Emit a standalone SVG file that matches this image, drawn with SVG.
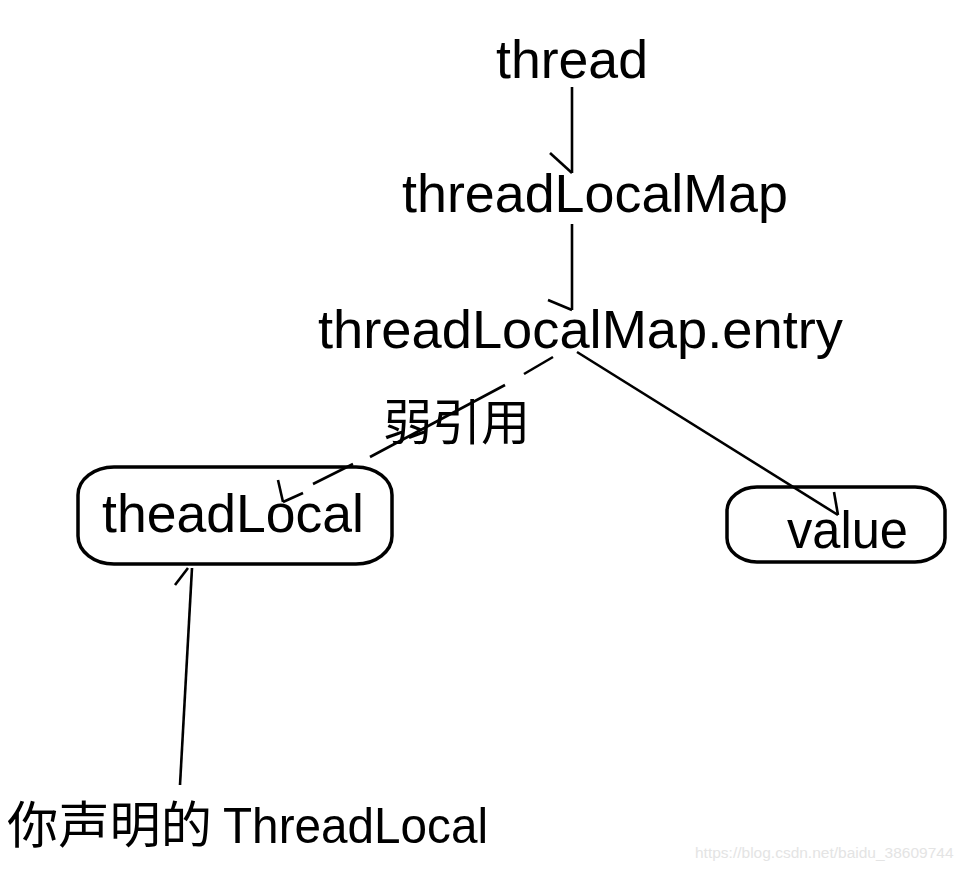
<svg xmlns="http://www.w3.org/2000/svg" width="970" height="872" viewBox="0 0 970 872">
<style>
.t{font-family:"Liberation Sans","Noto Sans CJK SC",sans-serif;fill:#000}
.ln{stroke:#000;stroke-width:2.6;fill:none;stroke-linecap:butt}
.box{stroke:#000;stroke-width:3.5;fill:none}
.wm{font-family:"Liberation Sans",sans-serif;fill:#e4e4e4;font-size:15.5px}
</style>
<rect width="970" height="872" fill="#fff"/>
<g id="connectors">
<line class="ln" x1="572" y1="87" x2="572" y2="173"/>
<line class="ln" x1="550" y1="153" x2="572" y2="173"/>
<line class="ln" x1="572" y1="224" x2="572" y2="310"/>
<line class="ln" x1="548" y1="300" x2="572" y2="310"/>
<line class="ln" x1="553" y1="357" x2="524" y2="374"/>
<line class="ln" x1="505" y1="385" x2="370" y2="457"/>
<line class="ln" x1="353" y1="464" x2="313" y2="484"/>
<line class="ln" x1="303" y1="493" x2="283" y2="502"/>
<line class="ln" x1="278" y1="480" x2="283" y2="502"/>
<line class="ln" x1="577" y1="352" x2="838" y2="515"/>
<line class="ln" x1="834" y1="492" x2="838" y2="515"/>
<line class="ln" x1="180" y1="785" x2="192" y2="568"/>
<line class="ln" x1="175" y1="585" x2="188" y2="568"/>
</g>
<g id="thread"><text class="t" x="496" y="78" font-size="53" textLength="152" lengthAdjust="spacingAndGlyphs">thread</text></g>
<g id="threadLocalMap"><text class="t" x="402" y="212" font-size="53" textLength="386" lengthAdjust="spacingAndGlyphs">threadLocalMap</text></g>
<g id="entry"><text class="t" x="318" y="348" font-size="53" textLength="525" lengthAdjust="spacingAndGlyphs">threadLocalMap.entry</text></g>
<g id="weakref"><text class="t" x="383" y="440" font-size="49" textLength="147" lengthAdjust="spacingAndGlyphs">弱引用</text></g>
<g id="theadLocal">
<rect class="box" x="78" y="467" width="314" height="97" rx="36" ry="28"/>
<text class="t" x="102" y="532" font-size="53" textLength="262" lengthAdjust="spacingAndGlyphs">theadLocal</text>
</g>
<g id="value">
<rect class="box" x="727" y="487" width="218" height="75" rx="30" ry="24"/>
<text class="t" x="787" y="548" font-size="51" textLength="121" lengthAdjust="spacingAndGlyphs">value</text>
</g>
<g id="declared"><text class="t" y="843" font-size="50"><tspan x="7" textLength="205" lengthAdjust="spacingAndGlyphs">你声明的</tspan><tspan x="223" textLength="265" lengthAdjust="spacingAndGlyphs">ThreadLocal</tspan></text></g>
<text class="wm" x="695" y="858">https://blog.csdn.net/baidu_38609744</text>
</svg>
